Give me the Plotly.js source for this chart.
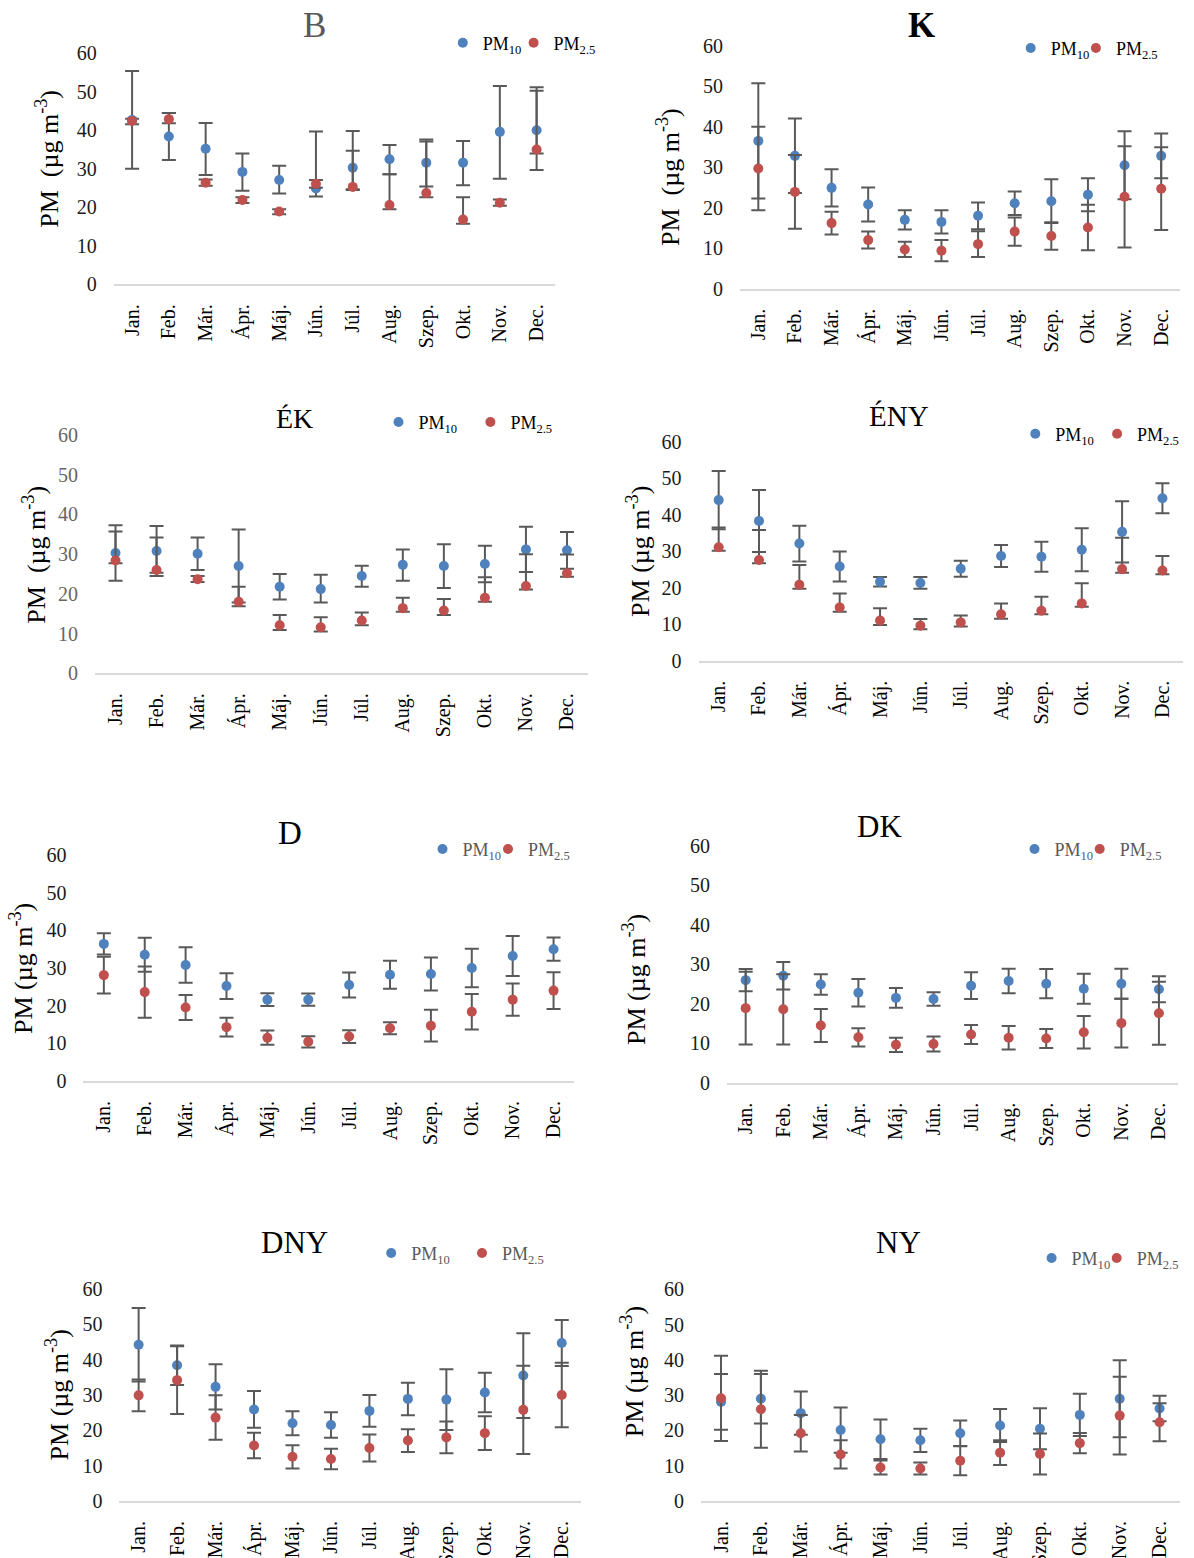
<!DOCTYPE html>
<html><head><meta charset="utf-8">
<script src="https://cdn.plot.ly/plotly-3.0.1.min.js"></script>
<style>html,body{margin:0;padding:0;background:#fff}#chart{width:1194px;height:1558px}</style>
</head><body><div id="chart"></div><script>
// ---------- DATA ----------
const months = ['Jan.','Feb.','Már.','Ápr.','Máj.','Jún.','Júl.','Aug.','Szep.','Okt.','Nov.','Dec.'];
const panelNames = ['B','K','ÉK','ÉNY','D','DK','DNY','NY'];

// B
const B_pm10      = [42.7, 38.4, 35.2, 29.2, 27.1, 24.9, 30.3, 32.5, 31.6, 31.6, 39.6, 40.0];
const B_pm10Plus  = [12.7, 6.1, 6.7, 4.8, 3.7, 14.8, 9.5, 3.7, 6.0, 5.6, 11.9, 11.2];
const B_pm10Minus = [12.7, 6.1, 6.8, 4.9, 3.5, 2.1, 5.6, 3.9, 6.2, 5.9, 12.2, 10.3];
const B_pm25      = [42.4, 42.9, 26.4, 21.9, 18.9, 26.1, 25.3, 20.6, 23.7, 16.8, 21.2, 35.0];
const B_pm25Plus  = [0.6, 1.6, 0.8, 0.7, 0.6, 1.0, 9.4, 8.0, 13.4, 5.8, 0.8, 15.3];
const B_pm25Minus = [0.8, 1.1, 0.8, 0.8, 0.7, 1.0, 0.8, 1.1, 1.1, 1.1, 0.8, 1.0];
// K
const K_pm10      = [36.5, 32.8, 24.9, 20.8, 17.0, 16.5, 18.0, 21.1, 21.6, 23.2, 30.5, 32.8];
const K_pm10Plus  = [14.2, 9.2, 4.6, 4.2, 2.4, 2.9, 3.3, 2.9, 5.4, 4.1, 8.4, 5.5];
const K_pm10Minus = [14.2, 9.2, 4.6, 4.2, 2.4, 2.9, 3.3, 2.9, 5.4, 4.1, 8.4, 5.5];
const K_pm25      = [29.7, 23.9, 16.2, 12.0, 9.7, 9.4, 11.0, 14.1, 13.0, 15.1, 22.7, 24.7];
const K_pm25Plus  = [10.3, 9.1, 2.8, 2.1, 1.9, 2.6, 3.2, 3.5, 3.4, 5.6, 12.5, 10.2];
const K_pm25Minus = [10.3, 9.1, 2.8, 2.1, 1.9, 2.6, 3.2, 3.5, 3.4, 5.6, 12.5, 10.2];
// ÉK
const EK_pm10      = [30.3, 30.8, 30.1, 27.0, 21.8, 21.2, 24.5, 27.3, 27.0, 27.5, 31.2, 31.0];
const EK_pm10Plus  = [7.0, 6.3, 4.1, 9.2, 3.2, 3.6, 2.6, 3.9, 5.5, 4.6, 5.7, 4.6];
const EK_pm10Minus = [7.0, 6.3, 4.1, 9.2, 3.2, 3.4, 2.7, 4.0, 5.5, 4.6, 5.7, 4.7];
const EK_pm25      = [28.4, 26.0, 23.7, 18.0, 12.1, 11.6, 13.3, 16.4, 15.8, 19.0, 22.0, 25.2];
const EK_pm25Plus  = [7.3, 8.2, 0.8, 3.8, 2.6, 2.5, 2.0, 2.6, 2.9, 5.2, 8.0, 4.7];
const EK_pm25Minus = [0.7, 0.7, 0.7, 1.1, 1.2, 1.1, 1.2, 0.9, 1.1, 1.0, 0.9, 0.9];
// ÉNY
const ENY_pm10      = [44.0, 38.3, 32.1, 25.8, 21.6, 21.3, 25.2, 28.7, 28.5, 30.4, 35.3, 44.5];
const ENY_pm10Plus  = [8.0, 8.5, 4.9, 4.1, 1.3, 1.6, 2.2, 3.0, 4.1, 5.9, 8.4, 4.1];
const ENY_pm10Minus = [8.0, 8.5, 4.9, 4.1, 1.3, 1.6, 2.2, 3.0, 4.1, 5.9, 8.4, 4.1];
const ENY_pm25      = [31.1, 27.6, 20.8, 14.6, 11.0, 9.6, 10.5, 12.7, 13.7, 15.7, 25.1, 24.7];
const ENY_pm25Plus  = [5.4, 8.2, 5.4, 3.8, 3.4, 1.8, 1.9, 3.0, 3.8, 5.5, 8.6, 4.0];
const ENY_pm25Minus = [1.0, 0.9, 1.1, 1.2, 1.2, 1.0, 1.1, 1.2, 1.0, 0.9, 1.0, 1.0];
// D
const D_pm10      = [36.4, 33.5, 30.8, 25.2, 21.6, 21.6, 25.5, 28.2, 28.4, 30.0, 33.2, 35.0];
const D_pm10Plus  = [2.8, 4.5, 4.7, 3.4, 1.7, 1.6, 3.3, 3.7, 4.4, 5.1, 5.3, 3.1];
const D_pm10Minus = [2.8, 4.5, 4.7, 3.4, 1.7, 1.6, 3.3, 3.7, 4.4, 5.1, 5.3, 3.1];
const D_pm25      = [28.1, 23.6, 19.5, 14.3, 11.5, 10.4, 11.8, 14.0, 14.7, 18.4, 21.6, 24.0];
const D_pm25Plus  = [4.9, 6.8, 3.3, 2.5, 1.9, 1.5, 1.7, 1.6, 4.2, 4.7, 4.3, 4.9];
const D_pm25Minus = [4.9, 6.8, 3.3, 2.5, 1.9, 1.5, 1.7, 1.6, 4.2, 4.7, 4.3, 4.9];
// DK
const DK_pm10      = [26.0, 27.1, 24.9, 22.8, 21.5, 21.2, 24.6, 25.8, 25.1, 23.8, 25.1, 23.7];
const DK_pm10Plus  = [2.8, 3.5, 2.6, 3.5, 2.5, 1.7, 3.4, 3.1, 3.7, 3.8, 3.8, 3.3];
const DK_pm10Minus = [2.8, 3.5, 2.6, 3.5, 2.5, 1.7, 3.4, 3.1, 3.7, 3.8, 3.8, 3.3];
const DK_pm25      = [18.9, 18.6, 14.5, 11.5, 9.6, 9.8, 12.2, 11.4, 11.2, 12.8, 15.1, 17.6];
const DK_pm25Plus  = [9.2, 8.9, 4.2, 2.3, 1.8, 1.9, 2.4, 3.0, 2.4, 4.1, 6.2, 8.0];
const DK_pm25Minus = [9.2, 8.9, 4.2, 2.3, 1.8, 1.9, 2.4, 3.0, 2.4, 4.1, 6.2, 8.0];
// DNY
const DNY_pm10      = [44.2, 38.4, 32.3, 25.9, 22.0, 21.5, 25.5, 28.9, 28.7, 30.7, 35.5, 44.7];
const DNY_pm10Plus  = [10.4, 5.6, 6.4, 5.2, 3.4, 3.6, 4.5, 4.6, 8.6, 5.6, 12.0, 6.5];
const DNY_pm10Minus = [10.4, 5.6, 6.4, 5.2, 3.4, 3.6, 4.5, 4.6, 8.6, 5.6, 12.0, 6.5];
const DNY_pm25      = [29.9, 34.2, 23.6, 15.7, 12.5, 11.9, 15.0, 17.1, 18.0, 19.2, 25.8, 30.0];
const DNY_pm25Plus  = [4.5, 9.6, 6.3, 3.6, 3.3, 2.9, 3.8, 3.2, 4.5, 4.8, 12.5, 9.1];
const DNY_pm25Minus = [4.5, 9.6, 6.3, 3.6, 3.3, 2.9, 3.8, 3.2, 4.5, 4.8, 12.5, 9.1];
// NY
const NY_pm10      = [28.1, 29.0, 24.9, 20.1, 17.5, 17.2, 19.2, 21.4, 20.5, 24.4, 29.0, 26.2];
const NY_pm10Plus  = [7.9, 7.0, 6.1, 6.4, 5.6, 3.3, 3.6, 4.7, 5.8, 6.0, 10.9, 3.6];
const NY_pm10Minus = [7.9, 7.0, 6.1, 6.4, 5.6, 3.3, 3.6, 4.7, 5.8, 6.0, 10.9, 3.6];
const NY_pm25      = [29.1, 26.0, 19.2, 13.2, 9.5, 9.2, 11.4, 13.7, 13.3, 16.4, 24.2, 22.3];
const NY_pm25Plus  = [12.1, 10.9, 5.2, 4.0, 2.0, 1.7, 4.1, 3.5, 5.8, 2.9, 11.0, 5.4];
const NY_pm25Minus = [12.1, 10.9, 5.2, 4.0, 2.0, 1.7, 4.1, 3.5, 5.8, 2.9, 11.0, 5.4];

const seriesNames = ['PM<sub>10</sub>', 'PM<sub>2.5</sub>'];
const yTickVals = [0, 10, 20, 30, 40, 50, 60];

// ---------- LAYOUT / STYLE ----------
const W = 1194, H = 1558;
const BLUE = '#4F81BD', RED = '#C0504D', ERR = '#595959';
const FONT = 'Liberation Serif, Times New Roman, serif';

const panelData = [
  [B_pm10, B_pm10Plus, B_pm10Minus, B_pm25, B_pm25Plus, B_pm25Minus],
  [K_pm10, K_pm10Plus, K_pm10Minus, K_pm25, K_pm25Plus, K_pm25Minus],
  [EK_pm10, EK_pm10Plus, EK_pm10Minus, EK_pm25, EK_pm25Plus, EK_pm25Minus],
  [ENY_pm10, ENY_pm10Plus, ENY_pm10Minus, ENY_pm25, ENY_pm25Plus, ENY_pm25Minus],
  [D_pm10, D_pm10Plus, D_pm10Minus, D_pm25, D_pm25Plus, D_pm25Minus],
  [DK_pm10, DK_pm10Plus, DK_pm10Minus, DK_pm25, DK_pm25Plus, DK_pm25Minus],
  [DNY_pm10, DNY_pm10Plus, DNY_pm10Minus, DNY_pm25, DNY_pm25Plus, DNY_pm25Minus],
  [NY_pm10, NY_pm10Plus, NY_pm10Minus, NY_pm25, NY_pm25Plus, NY_pm25Minus]
];

// geometry in pixels: plot x-range, y pixel of value 0 and 60, title, y-title, legend dot positions
const geo = [
  {x0:113.7, x1:555,   y0:284.3, y60:53.3,  tx:314.6, ty:25,   ts:35, tc:'#595959', tb:false, ytx:47.8,  yty:159,  yt:'PM\u00A0 (µg m<sup>-3</sup>)', bx:468.8,  rx:539.6,  ly:43,     lc:'#000', tickc:'#1a1a1a'},
  {x0:740,   x1:1179.5,y0:288.7, y60:45.7,  tx:921,   ty:25,   ts:35, tc:'#000',    tb:true,  ytx:668,   yty:177,  yt:'PM\u00A0 (µg m<sup>-3</sup>)', bx:1036.7, rx:1101.9, ly:48.3,   lc:'#000', tickc:'#1a1a1a'},
  {x0:95,    x1:587.5, y0:673.3, y60:435,   tx:294,   ty:418,  ts:28, tc:'#000',    tb:false, ytx:33.7,  yty:555,  yt:'PM\u00A0 (µg m<sup>-3</sup>)', bx:404.5,  rx:496.4,  ly:422.3,  lc:'#000', tickc:'#666666'},
  {x0:698.5, x1:1182.6,y0:660.7, y60:441.7, tx:899,   ty:416,  ts:29, tc:'#000',    tb:false, ytx:637.9, yty:551,  yt:'PM (µg m<sup>-3</sup>)', bx:1041.3, rx:1123.1, ly:434,    lc:'#000', tickc:'#1a1a1a'},
  {x0:83.4,  x1:574,   y0:1081,  y60:855,   tx:290,   ty:833,  ts:33, tc:'#000',    tb:false, ytx:21,    yty:969,  yt:'PM (µg m<sup>-3</sup>)', bx:448.5,  rx:514,    ly:849.3,  lc:'#595959', tickc:'#1a1a1a'},
  {x0:726.9, x1:1177.7,y0:1082.7,y60:846,   tx:879,   ty:826,  ts:31, tc:'#000',    tb:false, ytx:634,   yty:980,  yt:'PM (µg m<sup>-3</sup>)', bx:1040.5, rx:1105.7, ly:849.3,  lc:'#595959', tickc:'#1a1a1a'},
  {x0:119.4, x1:581,   y0:1501,  y60:1289,  tx:294,   ty:1242, ts:31, tc:'#000',    tb:false, ytx:57.4,  yty:1395, yt:'PM (µg m<sup>-3</sup>)', bx:397.2,  rx:488,    ly:1253.3, lc:'#595959', tickc:'#1a1a1a'},
  {x0:701.1, x1:1179.5,y0:1501,  y60:1289.3,tx:898,   ty:1242, ts:31, tc:'#000',    tb:false, ytx:632.2, yty:1372, yt:'PM (µg m<sup>-3</sup>)', bx:1057.6, rx:1122.7, ly:1258.3, lc:'#595959', tickc:'#1a1a1a'}
];

const traces = [];
const layout = {
  width: W, height: H,
  margin: {l:0, r:0, t:0, b:0},
  showlegend: true,
  paper_bgcolor: '#fff', plot_bgcolor: 'rgba(0,0,0,0)',
  font: {family: FONT, color: '#000'},
  annotations: []
};

function legendAt(dotX, dotY, color) {
  // Plotly places the legend symbol ~20px right of the legend's left edge
  return {
    visible: true,
    orientation: 'h', x: (dotX - 5 - 21) / W, xanchor: 'left',
    y: 1 - dotY / H, yanchor: 'middle',
    bgcolor: 'rgba(0,0,0,0)', borderwidth: 0,
    font: {family: FONT, size: 18, color: color},
    itemclick: false, itemdoubleclick: false
  };
}

panelNames.forEach((name, i) => {
  const s = i === 0 ? '' : String(i + 1);
  const g = geo[i];
  const d = panelData[i];
  const legBlue = i === 0 ? 'legend' : 'legend' + (2 * i + 1);
  const legRed = 'legend' + (2 * i + 2);
  const mk = (y, plus, minus, color, nm, leg) => ({
    type: 'scatter', mode: 'markers', x: months, y: y,
    xaxis: 'x' + s, yaxis: 'y' + s, name: nm, legend: leg, showlegend: true,
    marker: {color: color, size: 10},
    error_y: {type: 'data', symmetric: false, array: plus, arrayminus: minus,
              color: ERR, thickness: 2, width: 7},
    cliponaxis: false, hoverinfo: 'x+y'
  });
  traces.push(mk(d[0], d[1], d[2], BLUE, seriesNames[0], legBlue));
  traces.push(mk(d[3], d[4], d[5], RED, seriesNames[1], legRed));

  layout['xaxis' + s] = {
    domain: [g.x0 / W, g.x1 / W], anchor: 'y' + s, type: 'category',
    range: [-0.5, 11.5], showline: true, linecolor: '#d9d9d9', linewidth: 2,
    showgrid: false, zeroline: false, ticks: '', tickangle: -90,
    tickfont: {family: FONT, size: 20, color: '#000'}, ticklabelstandoff: 10,
    fixedrange: true
  };
  layout['yaxis' + s] = {
    domain: [1 - g.y0 / H, 1 - g.y60 / H], anchor: 'x' + s,
    range: [0, 60], tickvals: yTickVals, showline: false, showgrid: false,
    zeroline: false, ticks: '',
    tickfont: {family: FONT, size: 20, color: g.tickc}, ticklabelstandoff: 16,
    fixedrange: true
  };
  layout[legBlue] = legendAt(g.bx, g.ly, g.lc);
  layout[legRed] = legendAt(g.rx, g.ly, g.lc);
  layout.annotations.push({
    xref: 'paper', yref: 'paper', x: g.tx / W, y: 1 - g.ty / H,
    xanchor: 'center', yanchor: 'middle', showarrow: false,
    text: g.tb ? '<b>' + name + '</b>' : name,
    font: {family: FONT, size: g.ts, color: g.tc}
  });
  layout.annotations.push({
    xref: 'paper', yref: 'paper', x: g.ytx / W, y: 1 - g.yty / H,
    xanchor: 'center', yanchor: 'middle', showarrow: false, textangle: -90,
    text: g.yt, font: {family: FONT, size: 26, color: '#000'}
  });
});

Plotly.newPlot('chart', traces, layout, {displayModeBar: false, staticPlot: true});
</script></body></html>
